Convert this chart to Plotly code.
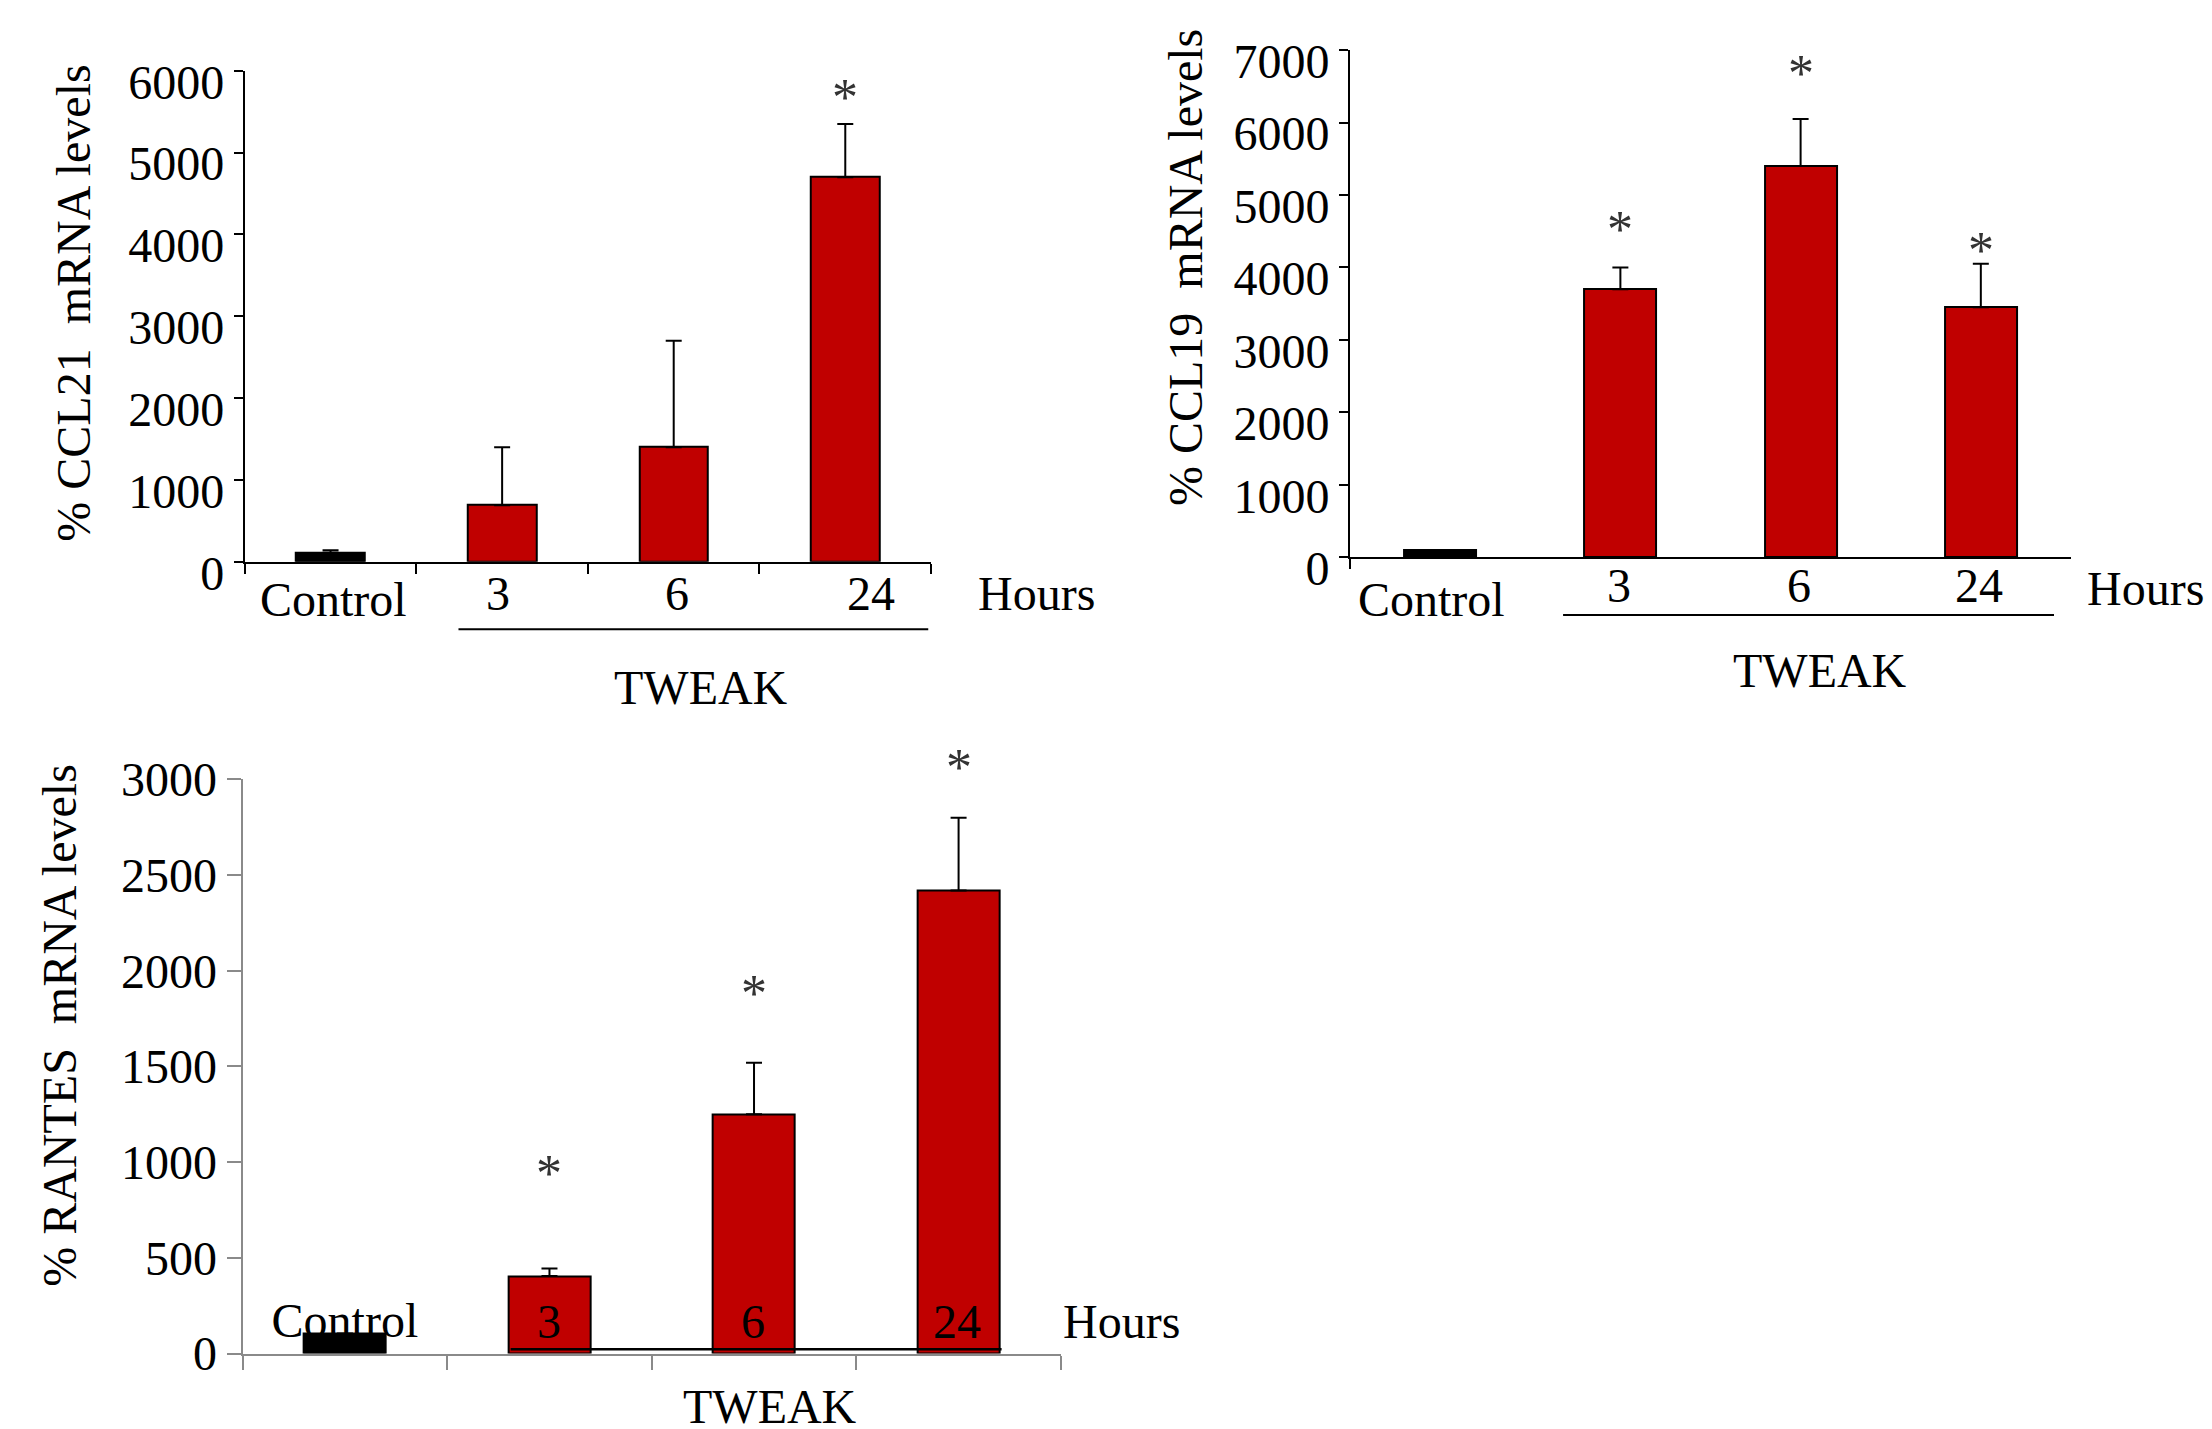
import plotly.graph_objects as go

# ---------------- data ----------------
categories = ["Control", "3", "6", "24"]

ccl21_values = [110, 690, 1400, 4700]
ccl21_err = [30, 710, 1300, 650]
ccl21_star = [None, None, None, 5630]

ccl19_values = [100, 3700, 5400, 3450]
ccl19_err = [0, 300, 650, 600]
ccl19_star = [None, 4470, 6620, 4180]

rantes_values = [105, 405, 1250, 2420]
rantes_err = [0, 40, 270, 380]
rantes_star = [None, 918, 1858, 3040]

y1_ticks = [0, 1000, 2000, 3000, 4000, 5000, 6000]
y2_ticks = [0, 1000, 2000, 3000, 4000, 5000, 6000, 7000]
y3_ticks = [0, 500, 1000, 1500, 2000, 2500, 3000]

# ---------------- layout helpers ----------------
W, H = 2212, 1429
S = 2212 / 1568.0      # reference-display -> full pixel scale
OFF = 8                # default body margin of the html page
FONT = "Liberation Serif"
RED = "#C00000"
GREY = "#8a8a8a"


def PX(xd):
    return (xd * S - OFF) / W


def PY(yd):
    return 1 - (yd * S - OFF) / H


xpos = list(range(len(categories)))
bar_colors = ["#000000", RED, RED, RED]

fig = go.Figure()

# bars are drawn on x/y, x2/y2 and on x4/y4 (an overlay of x3/y3 so that the
# third panel's "Control" label can sit underneath its bar)
panels = [
    dict(v=ccl21_values, e=ccl21_err, s=ccl21_star, xa="x", ya="y",
         sxa="x", sya="y", top=y1_ticks[-1]),
    dict(v=ccl19_values, e=ccl19_err, s=ccl19_star, xa="x2", ya="y2",
         sxa="x2", sya="y2", top=y2_ticks[-1]),
    dict(v=rantes_values, e=rantes_err, s=rantes_star, xa="x4", ya="y4",
         sxa="x3", sya="y3", top=y3_ticks[-1]),
]

fig.add_trace(go.Scatter(
    x=[xpos[0]], y=[150], mode="text", text=[categories[0]],
    textfont=dict(family=FONT, size=48, color="#000000"),
    textposition="middle center", cliponaxis=False,
    xaxis="x3", yaxis="y3", showlegend=False, hoverinfo="skip",
))

annotations = []

for p in panels:
    fig.add_trace(go.Bar(
        x=xpos, y=p["v"], width=0.4,
        marker=dict(color=bar_colors, line=dict(color="#000000", width=2)),
        error_y=dict(type="data", symmetric=False, array=p["e"],
                     arrayminus=[0] * len(p["e"]), color="#000000",
                     thickness=2, width=8),
        cliponaxis=False,
        xaxis=p["xa"], yaxis=p["ya"], showlegend=False,
    ))
    # significance stars (domain reference so that they may exceed the range)
    for x, s in zip(xpos, p["s"]):
        if s is None:
            continue
        annotations.append(dict(
            text="*", x=x, y=s / p["top"], xref=p["sxa"],
            yref=p["sya"] + " domain", yshift=4,
            showarrow=False, xanchor="center", yanchor="middle",
            font=dict(family=FONT, size=52, color="#333333")))

bounds = [-0.5, 0.5, 1.5, 2.5, 3.5]

axis_font = dict(family=FONT, size=48, color="#000000")

common = dict(showgrid=False, zeroline=False, automargin=False)

fig.update_layout(
    xaxis=dict(domain=[PX(173.5), PX(660)], range=[-0.5, 3.5], anchor="y",
               showline=True, linecolor="#000", linewidth=2,
               tickvals=bounds, ticktext=[""] * 5, ticks="outside",
               ticklen=10, tickwidth=2, tickcolor="#000", **common),
    yaxis=dict(domain=[PY(398.2), PY(50.2)], range=[0, y1_ticks[-1]],
               anchor="x", showline=True, linecolor="#000", linewidth=2,
               tickvals=y1_ticks, ticks="outside", ticklen=9, tickwidth=2,
               tickcolor="#000", tickfont=axis_font, ticklabelshift=11,
               **common),
    xaxis2=dict(domain=[PX(957), PX(1468)], range=[-0.5, 3.5], anchor="y2",
                showline=True, linecolor="#000", linewidth=2,
                tickvals=[-0.5], ticktext=[""], ticks="outside",
                ticklen=10, tickwidth=2, tickcolor="#000", **common),
    yaxis2=dict(domain=[PY(395), PY(35.5)], range=[0, y2_ticks[-1]],
                anchor="x2", showline=True, linecolor="#000", linewidth=2,
                tickvals=y2_ticks, ticks="outside", ticklen=9, tickwidth=2,
                tickcolor="#000", tickfont=axis_font, ticklabelshift=11,
                **common),
    xaxis3=dict(domain=[PX(172), PX(752)], range=[-0.5, 3.5], anchor="y3",
                showline=True, linecolor=GREY, linewidth=2,
                tickvals=bounds, ticktext=[""] * 5, ticks="outside",
                ticklen=14, tickwidth=2, tickcolor=GREY, **common),
    yaxis3=dict(domain=[PY(959.5), PY(552.5)], range=[0, y3_ticks[-1]],
                anchor="x3", showline=True, linecolor=GREY, linewidth=2,
                tickvals=y3_ticks, ticks="outside", ticklen=14, tickwidth=2,
                tickcolor=GREY, tickfont=axis_font, **common),
    xaxis4=dict(overlaying="x3", range=[-0.5, 3.5], visible=False,
                anchor="y4", automargin=False),
    yaxis4=dict(overlaying="y3", range=[0, y3_ticks[-1]], visible=False,
                anchor="x4", automargin=False),
)


def txt(text, x, y, xref="paper", angle=0, xshift=0, size=48):
    annotations.append(dict(text=text, x=x, y=y, xref=xref, yref="paper",
                            showarrow=False, textangle=angle, xshift=xshift,
                            xanchor="center", yanchor="middle",
                            font=dict(family=FONT, size=size, color="#000")))


# panel 1 labels
lab_y1 = [425, 421, 421, 421]
shift1 = [2, -3, 2, 18]
for i, c in enumerate(categories):
    txt(c, xpos[i], PY(lab_y1[i]), xref="x", xshift=shift1[i] * S)
txt("Hours", PX(735), PY(421))
txt("TWEAK", PX(497), PY(487))
txt("% CCL21\u00a0\u00a0mRNA levels", PX(52), PY(215), angle=-90)

# panel 2 labels
lab_y2 = [425, 415, 415, 415]
shift2 = [-6, -1, -1, -1]
for i, c in enumerate(categories):
    txt(c, xpos[i], PY(lab_y2[i]), xref="x2", xshift=shift2[i] * S)
txt("Hours", PX(1521), PY(417))
txt("TWEAK", PX(1290), PY(475))
txt("% CCL19\u00a0\u00a0mRNA levels", PX(840), PY(190), angle=-90)

# panel 3 labels (Control drawn as trace above, under its bar)
shift3 = [0, -1, -1]
for i, c in enumerate(categories[1:]):
    txt(c, xpos[i + 1], PY(937), xref="x3", xshift=shift3[i] * S)
txt("Hours", PX(795), PY(937))
txt("TWEAK", PX(546), PY(997))
txt("% RANTES\u00a0\u00a0mRNA levels", PX(42), PY(727), angle=-90)

shapes = [
    dict(type="line", xref="paper", yref="paper", x0=PX(325), x1=PX(658),
         y0=PY(446), y1=PY(446), line=dict(color="#000", width=2)),
    dict(type="line", xref="paper", yref="paper", x0=PX(1108), x1=PX(1456),
         y0=PY(436), y1=PY(436), line=dict(color="#000", width=2)),
    dict(type="line", xref="paper", yref="paper", x0=PX(362), x1=PX(710),
         y0=PY(956.5), y1=PY(956.5), line=dict(color="#000", width=2.5)),
]

fig.update_layout(
    width=W, height=H, margin=dict(l=0, r=0, t=0, b=0, pad=0),
    paper_bgcolor="#ffffff", plot_bgcolor="#ffffff",
    annotations=annotations, shapes=shapes, bargap=0, barmode="overlay",
    font=dict(family=FONT, color="#000"),
)

fig.write_html("out.html")
